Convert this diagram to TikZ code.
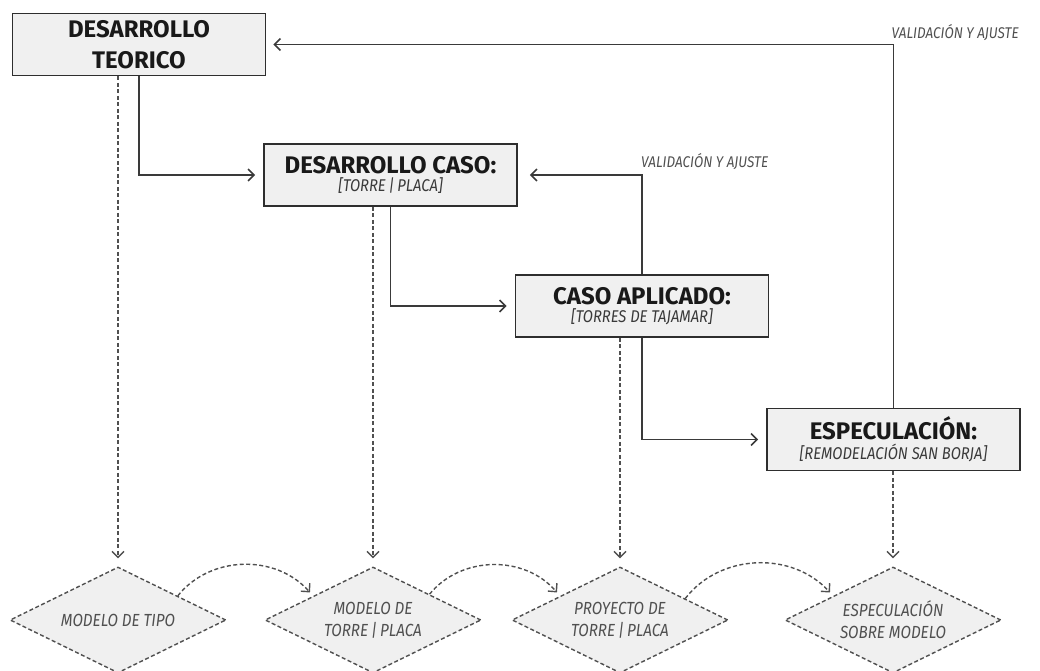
\documentclass[tikz,border=0pt]{standalone}
\usepackage{fontspec}
\setmainfont{Fira Sans}
\newfontfamily\condfont{Fira Sans}[FakeStretch=0.87]
\usetikzlibrary{arrows.meta,shapes.geometric,calc}
\definecolor{boxfill}{HTML}{F0F0F0}
\definecolor{boxline}{HTML}{2E2E2E}
\definecolor{conn}{HTML}{3A3A3A}
\definecolor{dashc}{HTML}{505050}
\definecolor{subtxt}{HTML}{3A3A3A}
\definecolor{dtxt}{HTML}{505050}
\tikzset{
  stagebox/.style={draw=boxline, line width=1.6pt, fill=boxfill, minimum width=253pt, minimum height=62pt, inner sep=0pt, align=center, text=black!90},
  ttl/.style={font=\bfseries\fontsize{24}{31}\selectfont},
  decision/.style={diamond, draw=dashc, dash pattern=on 4pt off 2.5pt, line width=1.4pt, fill=boxfill, minimum width=216pt, minimum height=106pt, aspect=2, inner sep=0pt, align=center, text=dtxt, font=\condfont\itshape\fontsize{17.5}{22}\selectfont},
  flow/.style={draw=conn, line width=1.6pt, -{Straight Barb[length=6pt,width=12pt,line width=1.6pt]}},
  feed/.style={flow},
  dashflow/.style={draw=dashc, line width=1.4pt, dash pattern=on 4pt off 2.5pt, -{Straight Barb[length=6pt,width=12pt,line width=1.4pt]}},
  vlabel/.style={text=dtxt, font=\condfont\itshape\fontsize{15.5}{18}\selectfont, inner sep=1pt},
}
\newcommand{\subt}[1]{{\condfont\itshape\fontsize{17}{17}\selectfont\color{subtxt}#1}}
\newcommand{\boxttl}[1]{{\bfseries\fontsize{24}{24}\selectfont #1}}
\begin{document}
\begin{tikzpicture}[x=1pt,y=-1pt]
\useasboundingbox (0,0) rectangle (1040,671);
% stage boxes
\node[stagebox, ttl] (b1) at (139,44.5) {DESARROLLO\\TEORICO};
\node[stagebox] (b2) at (390.5,175) {\boxttl{DESARROLLO CASO:}\\[3pt]\subt{[TORRE\,|\,PLACA]}};
\node[stagebox] (b3) at (642,306) {\boxttl{CASO APLICADO:}\\[3pt]\subt{[TORRES DE TAJAMAR]}};
\node[stagebox] (b4) at (893.5,439.5) {\boxttl{ESPECULACIÓN:}\\[3pt]\subt{[REMODELACIÓN SAN BORJA]}};
% decision diamonds
\node[decision] (d1) at (118,620) {MODELO DE TIPO};
\node[decision] (d2) at (373,620) {MODELO DE\\TORRE\,|\,PLACA};
\node[decision] (d3) at (620,620) {PROYECTO DE\\TORRE\,|\,PLACA};
\node[decision] (d4) at (893,620) {ESPECULACIÓN\\SOBRE MODELO};
% forward flow
\draw[flow, shorten >=8pt] (b1.south) |- (b2.west);
\draw[flow, shorten >=8pt] (b2.south) |- (b3.west);
\draw[flow, shorten >=8pt] (b3.south) |- (b4.west);
% feedback
\coordinate (c1) at (b4.north |- b1.east);
\coordinate (c2) at (b3.north |- b2.east);
\draw[feed, shorten >=7pt] (b4.north) -- (c1) -- (b1.east);
\draw[feed, shorten >=12pt] (b3.north) -- (c2) -- (b2.east);
\node[vlabel, anchor=south west] (v1) at ($(c1)+(-3,-3)$) {VALIDACIÓN Y AJUSTE};
\node[vlabel, anchor=south west] (v2) at ($(c2)+(-2,-4)$) {VALIDACIÓN Y AJUSTE};
% dashed down to diamonds
\draw[dashflow, shorten >=8pt] (b1.south -| d1.north) -- (d1.north);
\draw[dashflow, shorten >=8pt] (b2.south -| d2.north) -- (d2.north);
\draw[dashflow, shorten >=8pt] (b3.south -| d3.north) -- (d3.north);
\draw[dashflow, shorten >=8pt] (b4.south -| d4.north) -- (d4.north);
% curved dashed between diamonds
\coordinate (s1) at ($(d1.north)!0.55!(d1.east)$);
\coordinate (e1) at ($(d2.west)!0.42!(d2.north)+(0,-5)$);
\coordinate (s2) at ($(d2.north)!0.52!(d2.east)$);
\coordinate (e2) at ($(d3.west)!0.42!(d3.north)+(0,-5)$);
\coordinate (s3) at ($(d3.north)!0.6!(d3.east)$);
\coordinate (e3) at ($(d4.west)!0.42!(d4.north)+(0,-5)$);
\draw[dashflow] (s1) to[bend left=50] (e1);
\draw[dashflow] (s2) to[bend left=50] (e2);
\draw[dashflow] (s3) to[bend left=50] (e3);
\end{tikzpicture}
\end{document}
